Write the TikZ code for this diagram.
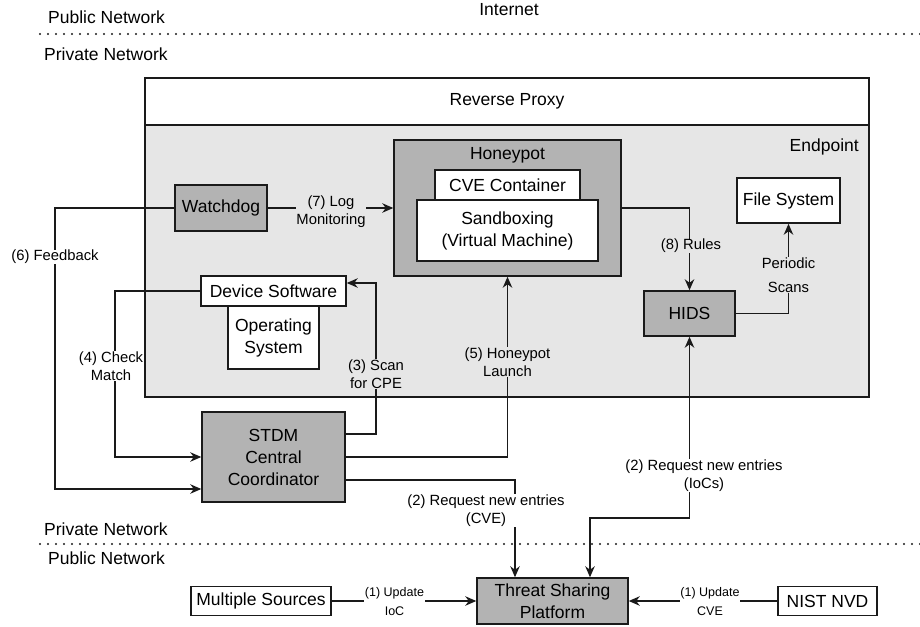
\documentclass[tikz,border=0pt]{standalone}
\usepackage{fontspec}
\setmainfont{Liberation Sans}
\usetikzlibrary{arrows.meta}
\definecolor{epgray}{HTML}{E6E6E6}
\definecolor{dkgray}{HTML}{B3B3B3}
\definecolor{ln}{HTML}{1A1A1A}
\begin{document}
\begin{tikzpicture}[x=1pt,y=-1pt,
  box/.style={draw=ln,line width=1.5pt,fill=white,inner sep=0pt,align=center,font=\fontsize{17.5}{22}\selectfont},
  dbox/.style={box,fill=dkgray},
  conn/.style={draw=ln,line width=1.3pt},
  tip/.tip={Stealth[length=11pt,width=9.5pt,inset=3.5pt]},
  arr/.style={conn,-tip},
  lbl/.style={inner sep=0.5pt,align=center,font=\fontsize{14.8}{18.5}\selectfont},
  lblw/.style={lbl,fill=white},
  lblg/.style={lbl,fill=epgray},
  small/.style={lblw,font=\fontsize{12.5}{19}\selectfont},
  net/.style={font=\fontsize{17.5}{21}\selectfont,inner sep=0pt},
  dots/.style={draw=ln,line width=2.4pt,line cap=round,dash pattern=on 0pt off 8pt}
]
\useasboundingbox (0,0) rectangle (920,626);

% network separators
\draw[dots] (40,34) -- (920,34);
\draw[dots] (40,544) -- (920,544);
\node[net,anchor=west] (pubtop) at (48,17) {Public Network};
\node[net] (inet) at (509,10) {Internet};
\node[net,anchor=west] (privtop) at (44,54) {Private Network};
\node[net,anchor=west] (privbot) at (44,529) {Private Network};
\node[net,anchor=west] (pubbot) at (48,558) {Public Network};

% reverse proxy and endpoint
\node[box,minimum width=724pt,minimum height=47pt] (rp) at (507,101.5) {Reverse Proxy};
\node[box,fill=epgray,minimum width=724pt,minimum height=272pt] (ep) at (507,261) {};
\node[net,anchor=east] (eplbl) at (859,147) {Endpoint};

% boxes
\node[dbox,minimum width=92pt,minimum height=46pt] (wd) at (221,208) {Watchdog};
\node[dbox,minimum width=227pt,minimum height=136pt] (hp) at (507.5,208) {};
\node[net] (hplbl) at (507.5,155) {Honeypot};
\node[box,minimum width=145pt,minimum height=30pt] (cve) at (507.5,185) {CVE Container};
\node[box,minimum width=181pt,minimum height=61pt] (sb) at (507.5,230.5) {Sandboxing\\(Virtual Machine)};
\node[box,minimum width=103pt,minimum height=45pt] (fs) at (788.5,200.5) {File System};
\node[dbox,minimum width=91pt,minimum height=45pt] (hids) at (689.5,313.5) {HIDS};
\node[box,minimum width=91pt,minimum height=63pt] (os) at (273.5,337.5) {Operating\\System};
\node[box,minimum width=145pt,minimum height=30pt] (ds) at (273.5,291) {Device Software};
\node[dbox,minimum width=143pt,minimum height=90pt] (stdm) at (273.5,457) {STDM\\Central\\Coordinator};
\node[dbox,minimum width=151pt,minimum height=46pt] (tsp) at (552.5,601) {Threat Sharing\\Platform};
\node[box,minimum width=140pt,minimum height=29pt] (ms) at (261,601) {Multiple Sources};
\node[box,minimum width=99pt,minimum height=29pt] (nvd) at (827.5,601) {NIST NVD};

% (7) Log Monitoring
\draw[arr] (wd.east) -- (hp.west |- wd.east);
\node[lblg] at (331,211.5) {(7) Log\\Monitoring};

% (8) Rules
\coordinate (r1) at (689.5,208);
\draw[arr] (hp.east |- r1) -- (r1) -- (hids.north);
\node[lblg] at (691,246) {(8) Rules};

% Periodic Scans
\coordinate (p1) at (788.5,313.5);
\draw[arr] (hids.east) -- (p1) -- (fs.south);
\node[lblg,font=\fontsize{14.8}{24}\selectfont] at (788.5,275) {Periodic\\Scans};

% (6) Feedback
\coordinate (f1) at (55,208);
\coordinate (f2) at (55,489);
\draw[arr] (wd.west) -- (f1) -- (f2) -- (stdm.west |- f2);
\node[lblw] at (55,257) {(6) Feedback};

% (4) Check Match
\coordinate (c1) at (115,291);
\coordinate (c2) at (115,457);
\draw[arr] (ds.west) -- (c1) -- (c2) -- (stdm.west);
\node[lblw] at (111,366) {(4) Check\\Match};

% (3) Scan for CPE
\coordinate (s1) at (376,434);
\coordinate (s2) at (376,283);
\draw[arr] (stdm.east |- s1) -- (s1) -- (s2) -- (ds.east |- s2);
\node[lblg] at (376,374) {(3) Scan\\for CPE};

% (5) Honeypot Launch
\coordinate (h1) at (507.5,457);
\draw[arr] (stdm.east) -- (h1) -- (hp.south);
\node[lblg] at (507.5,362) {(5) Honeypot\\Launch};

% (2) Request new entries (CVE)
\coordinate (v1) at (515,480);
\draw[arr] (stdm.east |- v1) -- (v1) -- (tsp.north -| v1);
\node[lblw] at (486,510.5) {(2) Request new entries\\(CVE)};

% (2) Request new entries (IoCs)
\coordinate (i1) at (590,518);
\coordinate (i2) at (689.5,518);
\draw[conn,tip-tip] (tsp.north -| i1) -- (i1) -- (i2) -- (hids.south);
\node[lblw] at (704,475.5) {(2) Request new entries\\(IoCs)};

% (1) Updates
\draw[arr] (ms.east) -- (tsp.west |- ms.east);
\node[small] at (394.5,602) {(1) Update\\IoC};
\draw[arr] (nvd.west) -- (tsp.east |- nvd.west);
\node[small] at (710,602) {(1) Update\\CVE};
\end{tikzpicture}
\end{document}
